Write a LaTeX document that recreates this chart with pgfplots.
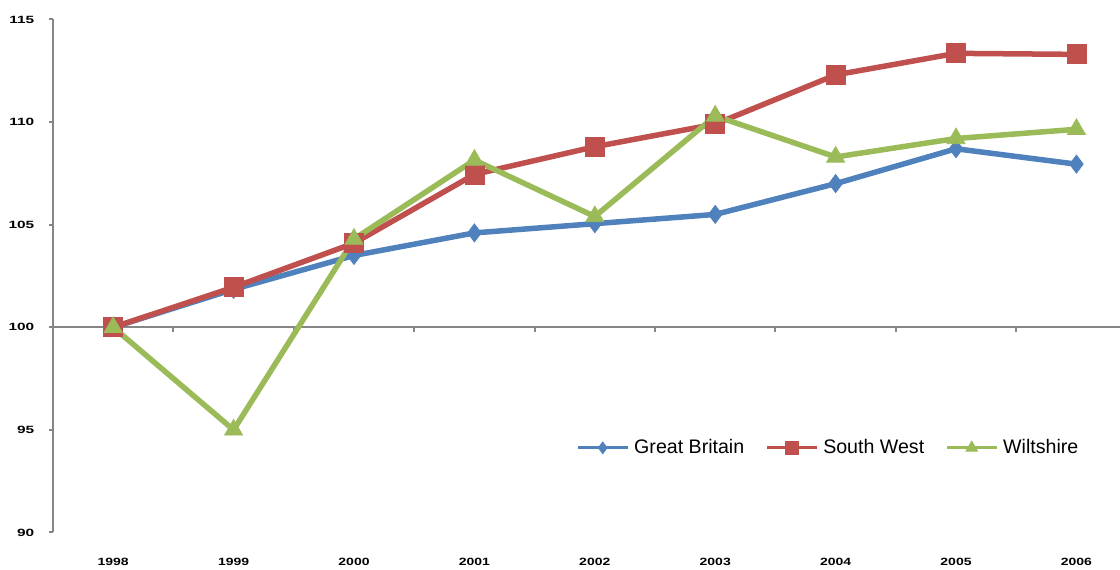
\documentclass[border=0pt]{standalone}
\usepackage{fontspec}
\setmainfont{Liberation Sans}
\usepackage{pgfplots}
\pgfplotsset{compat=1.18}

\definecolor{gbblue}{HTML}{4F81BD}
\definecolor{swred}{HTML}{C0504D}
\definecolor{wgreen}{HTML}{9BBB59}
\definecolor{axisgray}{HTML}{868686}

\begin{document}
\begin{tikzpicture}
\begin{axis}[
  scale only axis,
  width=533.5pt, height=256.5pt,
  xmin=-0.5, xmax=8.362, ymin=90, ymax=115,
  clip=false,
  axis y line*=left,
  axis x line*=bottom,
  x axis line style={draw=none},
  y axis line style={axisgray, line width=1.3pt},
  ytick={90,95,100,105,110,115},
  xtick={0,1,2,3,4,5,6,7,8},
  xticklabels={1998,1999,2000,2001,2002,2003,2004,2005,2006},
  xtick style={draw=none},
  ytick style={axisgray, line width=1pt},
  tick align=outside,
  major tick length=2pt,
  /pgf/number format/assume math mode=true,
  yticklabel style={font=\fontsize{7}{8}\selectfont\bfseries, yscale=0.75,
    xscale=1.1, anchor=east, inner sep=0pt, xshift=-6.5pt},
  xticklabel style={font=\fontsize{7}{8}\selectfont\bfseries, yscale=0.75,
    anchor=north, inner sep=0pt, yshift=-14.5pt},
  legend columns=3,
  legend cell align=left,
  legend style={at={(rel axis cs:0.49,0.165)}, anchor=west, draw=none,
    fill=none, inner sep=0pt, font=\fontsize{9.8}{12}\selectfont,
    nodes={inner sep=0pt},
    /tikz/every odd column/.append style={column sep=2.5pt},
    /tikz/every even column/.append style={column sep=10.5pt}},
  legend image code/.code={%
    \draw[#1, line width=1.5pt, mark repeat=2, mark phase=2,
      every mark/.append style={scale=0.65}]
      plot coordinates {(0pt,0pt) (12.5pt,0pt) (25pt,0pt)};},
]
% baseline at 100 with category separators
\draw[axisgray, line width=1pt] (axis cs:-0.5,100) -- (axis cs:8.362,100);
\pgfplotsinvokeforeach{0.5,1.5,2.5,3.5,4.5,5.5,6.5,7.5}{
  \draw[axisgray, line width=1pt] (axis cs:#1,100) -- ++(0pt,-2.5pt);
}

\addplot[gbblue, line width=2.75pt, mark=diamond*, mark size=4.5pt,
  mark options={solid, fill=gbblue, draw=gbblue, line width=0.4pt}]
  coordinates {(0,100) (1,101.85) (2,103.5) (3,104.6) (4,105.05)
               (5,105.5) (6,107.0) (7,108.7) (8,107.95)};
\addlegendentry{Great Britain}

\addplot[swred, line width=2.75pt, mark=square*, mark size=4.75pt,
  mark options={solid, fill=swred, draw=swred, line width=0.4pt}]
  coordinates {(0,100) (1,101.95) (2,104.1) (3,107.45) (4,108.8)
               (5,109.9) (6,112.3) (7,113.35) (8,113.3)};
\addlegendentry{South West}

\addplot[wgreen, line width=2.75pt, mark=triangle*, mark size=5.2pt,
  mark options={solid, fill=wgreen, draw=wgreen, line width=0.4pt}]
  coordinates {(0,100) (1,95.0) (2,104.3) (3,108.15) (4,105.4)
               (5,110.3) (6,108.3) (7,109.2) (8,109.65)};
\addlegendentry{Wiltshire}
\end{axis}
\pgfresetboundingbox
\path[use as bounding box]
  ([xshift=-26.5pt, yshift=-18.75pt]current axis.south west)
  rectangle ([yshift=9.75pt]current axis.north east);
\end{tikzpicture}
\end{document}
